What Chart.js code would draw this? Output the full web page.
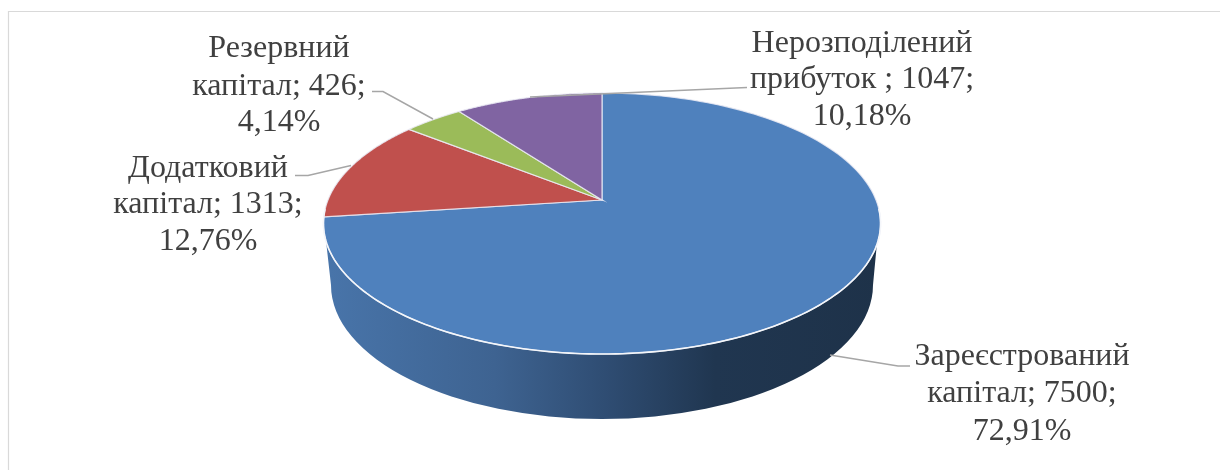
<!DOCTYPE html>
<html>
<head>
<meta charset="utf-8">
<style>
    html, body { margin: 0; padding: 0; background: #fff; }
    canvas { display: block; }
</style>
<script src="https://cdn.jsdelivr.net/npm/chart.js@4"></script>
</head>
<body>
<canvas id="pieChart" width="1220" height="470"></canvas>
<script>
// Дані діаграми
const categories = ['Зареєстрований капітал', 'Додатковий капітал', 'Резервний капітал', 'Нерозподілений прибуток '];
const values = [7500, 1313, 426, 1047];
const percents = ['72,91%', '12,76%', '4,14%', '10,18%'];
const colors = ['#4f81bd', '#c0504d', '#9bbb59', '#8064a2'];

// Підписи: центр тексту, базові лінії, лінія-виноска
const labelBoxes = [
    { x: 1022, y: [365, 402, 440], leader: [[830, 355], [898, 366], [910, 366]] },
    { x: 208, y: [177, 213, 250], leader: [[351, 165.5], [308, 175.5], [295, 175.5]] },
    { x: 279, y: [57, 95, 131], leader: [[433, 119], [383, 91.5], [372, 91.5]] },
    { x: 862, y: [52, 88, 125], leader: [[530, 97], [747, 87.5]] }
];

// Перспектива верхньої поверхні (центр секторів зміщений відносно еліпса)
const apex = { x: 602, y: 200 };
const persp = { rx: 274, ry: 126.3, k: -0.18 };

function rimPoint(angle) {
    const w = 1 + persp.k * Math.sin(angle);
    return [apex.x + persp.rx * Math.cos(angle) / w, apex.y + persp.ry * Math.sin(angle) / w];
}

function drawWall(ctx) {
    const grad = ctx.createLinearGradient(330, 0, 880, 0);
    grad.addColorStop(0, '#4874a9');
    grad.addColorStop(0.3, '#3e6391');
    grad.addColorStop(0.5, '#2f4d73');
    grad.addColorStop(0.7, '#203650');
    grad.addColorStop(1, '#1e3249');
    ctx.beginPath();
    ctx.moveTo(325, 232);
    ctx.lineTo(331, 285);
    ctx.ellipse(602, 285, 271, 134, 0, Math.PI, 0, true);
    ctx.lineTo(878, 232);
    ctx.closePath();
    ctx.fillStyle = grad;
    ctx.fill();
}

function drawSlice(ctx, arc, color) {
    ctx.beginPath();
    ctx.moveTo(apex.x, apex.y);
    const steps = 160;
    for (let i = 0; i <= steps; i++) {
        const a = arc.startAngle + (arc.endAngle - arc.startAngle) * i / steps;
        const p = rimPoint(a);
        ctx.lineTo(p[0], p[1]);
    }
    ctx.closePath();
    ctx.fillStyle = color;
    ctx.fill();
    ctx.strokeStyle = 'rgba(235,235,245,0.85)';
    ctx.lineWidth = 1.2;
    ctx.stroke();
}

// біла грань на стику верхньої поверхні та боковини
function drawRimHighlight(ctx) {
    ctx.beginPath();
    for (let a = 0.07; a <= Math.PI - 0.07; a += 0.02) {
        const p = rimPoint(a);
        ctx.lineTo(p[0], p[1]);
    }
    ctx.strokeStyle = '#f4f6fa';
    ctx.lineWidth = 1.6;
    ctx.stroke();
}

const pie3d = {
    id: 'pie3d',
    beforeDraw(chart) {
        const ctx = chart.ctx;
        ctx.save();
        ctx.strokeStyle = '#d9d9d9';
        ctx.lineWidth = 1.2;
        ctx.beginPath();
        ctx.moveTo(8.5, 470);
        ctx.lineTo(8.5, 11.5);
        ctx.lineTo(1220, 11.5);
        ctx.stroke();
        ctx.restore();
    },
    // кути секторів беремо з елементів Chart.js
    beforeDatasetDraw(chart, args) {
        const ctx = chart.ctx;
        const arcs = chart.getDatasetMeta(args.index).data;
        ctx.save();
        drawWall(ctx);
        arcs.forEach((arc, i) => drawSlice(ctx, arc, colors[i]));
        drawRimHighlight(ctx);
        ctx.restore();
        return false;
    },
    afterDatasetsDraw(chart) {
        const ctx = chart.ctx;
        ctx.save();
        ctx.font = '32px "Liberation Serif"';
        ctx.textAlign = 'center';
        ctx.textBaseline = 'alphabetic';
        categories.forEach((name, i) => {
            const box = labelBoxes[i];
            ctx.strokeStyle = '#a6a6a6';
            ctx.lineWidth = 1.5;
            ctx.beginPath();
            box.leader.forEach((p, j) => j ? ctx.lineTo(p[0], p[1]) : ctx.moveTo(p[0], p[1]));
            ctx.stroke();

            const cut = name.indexOf(' ');
            const lines = [name.slice(0, cut), name.slice(cut + 1) + '; ' + values[i] + ';', percents[i]];
            ctx.fillStyle = '#404040';
            lines.forEach((t, j) => ctx.fillText(t, box.x, box.y[j]));
        });
        ctx.restore();
    }
};

new Chart(document.getElementById('pieChart').getContext('2d'), {
    type: 'pie',
    data: {
        labels: categories,
        datasets: [{ data: values, backgroundColor: colors }]
    },
    options: {
        responsive: false,
        animation: false,
        devicePixelRatio: 1,
        plugins: {
            legend: { display: false },
            tooltip: { enabled: false }
        }
    },
    plugins: [pie3d]
});
</script>
</body>
</html>
